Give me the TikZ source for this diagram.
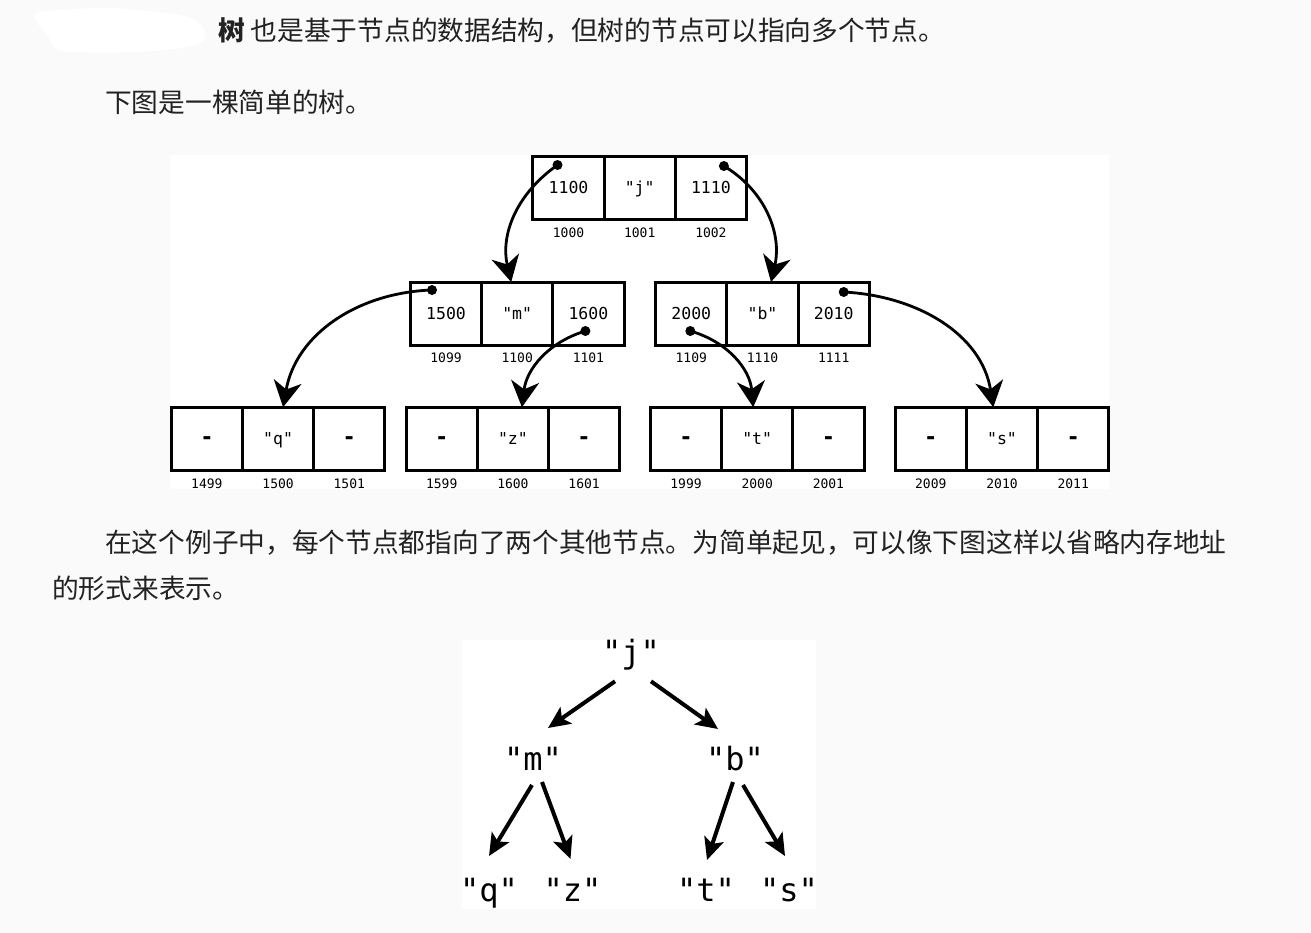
\documentclass[tikz,border=0pt]{standalone}
\usepackage{fontspec}
\newfontfamily\cjkfont{Noto Sans CJK SC}
\newfontfamily\codefont{DejaVu Sans Mono}
\usepackage{tikz}
\usetikzlibrary{arrows.meta,positioning}
\definecolor{pagebg}{HTML}{FAFAFA}
\definecolor{ink}{HTML}{222222}
\newcommand\nilcell{{\bfseries\fontsize{22}{22}\selectfont -}}
\tikzset{
	para/.style = {anchor=base west, inner sep=0pt, text=ink,
	 font=\cjkfont\fontsize{26.7}{30}\selectfont},
	cell/.style = {draw, line width=3pt, minimum width=71.2pt,
	 minimum height=63pt, inner sep=0pt, outer sep=0pt,
	 text height=12pt, text depth=0pt,
	 font=\codefont\fontsize{16.5}{18}\selectfont},
	addr/.style = {inner sep=0pt, font=\codefont\fontsize{13}{15}\selectfont},
	dot/.style = {circle, fill=black, inner sep=0pt, minimum size=10pt,
	 node contents={}},
	ptr/.style = {line width=2.8pt, -{Stealth[length=26pt,width=28pt,inset=8pt]}},
	tnode/.style = {anchor=base, inner sep=0pt,
	 font=\codefont\fontsize{32}{34}\selectfont},
	treearrow/.style = {line width=4pt, -{Stealth[length=22pt,width=20pt,inset=5pt]}},
}

\begin{document}
\begin{tikzpicture}[x=1pt, y=-1pt]
    \useasboundingbox (0,0) rectangle (1311,933);
    \fill[pagebg] (0,0) rectangle (1311,933);
    \fill[white] plot[smooth cycle] coordinates {(40,12) (110,8) (185,16)
      (205,32) (196,45) (140,52) (62,51) (48,36) (37,22)};
    \fill[white] (170,155) rectangle (1109,489);
    \fill[white] (462,640) rectangle (816,909);

    \node[para] (p1) at (218,40.5) {\textbf{树} 也是基于节点的数据结构，但树的节点可以指向多个节点。};
    \node[para] (p2) at (105,113) {下图是一棵简单的树。};
    \node[para] (p3) at (105,552) {在这个例子中，每个节点都指向了两个其他节点。为简单起见，可以像下图这样以省略内存地址};
    \node[para] (p4) at (52,598) {的形式来表示。};

    \node[cell] (j1) at (568.5,188) {1100};
    \node[cell, right=0pt of j1] (j2) {"j"};
    \node[cell, right=0pt of j2] (j3) {1110};
    \node[addr, below=8pt of j1] (j1a) {1000};
    \node[addr, below=8pt of j2] (j2a) {1001};
    \node[addr, below=8pt of j3] (j3a) {1002};

    \node[cell] (m1) at (446,313.5) {1500};
    \node[cell, right=0pt of m1] (m2) {"m"};
    \node[cell, right=0pt of m2] (m3) {1600};
    \node[addr, below=8pt of m1] (m1a) {1099};
    \node[addr, below=8pt of m2] (m2a) {1100};
    \node[addr, below=8pt of m3] (m3a) {1101};

    \node[cell] (b1) at (691.3,313.5) {2000};
    \node[cell, right=0pt of b1] (b2) {"b"};
    \node[cell, right=0pt of b2] (b3) {2010};
    \node[addr, below=8pt of b1] (b1a) {1109};
    \node[addr, below=8pt of b2] (b2a) {1110};
    \node[addr, below=8pt of b3] (b3a) {1111};

    \node[cell] (q1) at (206.9,438.7) {\nilcell};
    \node[cell, right=0pt of q1] (q2) {"q"};
    \node[cell, right=0pt of q2] (q3) {\nilcell};
    \node[addr, below=8pt of q1] (q1a) {1499};
    \node[addr, below=8pt of q2] (q2a) {1500};
    \node[addr, below=8pt of q3] (q3a) {1501};

    \node[cell] (z1) at (441.7,438.7) {\nilcell};
    \node[cell, right=0pt of z1] (z2) {"z"};
    \node[cell, right=0pt of z2] (z3) {\nilcell};
    \node[addr, below=8pt of z1] (z1a) {1599};
    \node[addr, below=8pt of z2] (z2a) {1600};
    \node[addr, below=8pt of z3] (z3a) {1601};

    \node[cell] (t1) at (686,438.7) {\nilcell};
    \node[cell, right=0pt of t1] (t2) {"t"};
    \node[cell, right=0pt of t2] (t3) {\nilcell};
    \node[addr, below=8pt of t1] (t1a) {1999};
    \node[addr, below=8pt of t2] (t2a) {2000};
    \node[addr, below=8pt of t3] (t3a) {2001};

    \node[cell] (s1) at (930.8,438.7) {\nilcell};
    \node[cell, right=0pt of s1] (s2) {"s"};
    \node[cell, right=0pt of s2] (s3) {\nilcell};
    \node[addr, below=8pt of s1] (s1a) {2009};
    \node[addr, below=8pt of s2] (s2a) {2010};
    \node[addr, below=8pt of s3] (s3a) {2011};

    \node (d1) at ([xshift=-11pt,yshift=23pt]j1.center) [dot];
    \node (d2) at ([xshift=13pt,yshift=22pt]j3.center) [dot];
    \node (d3) at ([xshift=-14pt,yshift=23.5pt]m1.center) [dot];
    \node (d4) at ([xshift=-3pt,yshift=-17.5pt]m3.center) [dot];
    \node (d5) at ([xshift=-1pt,yshift=-17.5pt]b1.center) [dot];
    \node (d6) at ([xshift=10pt,yshift=21.5pt]b3.center) [dot];
    \draw[ptr] (d1.center) to[out=215, in=103] ([xshift=-6pt]m2.north);
    \draw[ptr] (d2.center) to[out=-31, in=77] ([xshift=8.5pt]b2.north);
    \draw[ptr] (d3.center) to[out=182, in=80] ([xshift=5pt]q2.north);
    \draw[ptr] (d4.center) to[out=197, in=83] ([xshift=9pt]z2.north);
    \draw[ptr] (d5.center) to[out=-16, in=95] ([xshift=-4pt]t2.north);
    \draw[ptr] (d6.center) to[out=-3, in=99] ([xshift=-8.7pt]s2.north);

    \node[tnode] (tj) at (631,663.3) {"j"};
    \node[tnode] (tm) at (533,770) {"m"};
    \node[tnode] (tb) at (735,770) {"b"};
    \node[tnode] (tq) at (489,901) {"q"};
    \node[tnode] (tz) at (572.5,901) {"z"};
    \node[tnode] (tt) at (706,901) {"t"};
    \node[tnode] (ts) at (789,901) {"s"};
    \draw[treearrow] ([xshift=-16pt,yshift=-18pt]tj.base) -- ([xshift=15pt,yshift=42pt]tm.base);
    \draw[treearrow] ([xshift=20pt,yshift=-18pt]tj.base) -- ([xshift=-17pt,yshift=41pt]tb.base);
    \draw[treearrow] ([xshift=-1pt,yshift=-15pt]tm.base) -- ([yshift=45pt]tq.base);
    \draw[treearrow] ([xshift=9pt,yshift=-12pt]tm.base) -- ([xshift=-2pt,yshift=42pt]tz.base);
    \draw[treearrow] ([xshift=-2pt,yshift=-12pt]tb.base) -- ([xshift=1pt,yshift=41pt]tt.base);
    \draw[treearrow] ([xshift=8pt,yshift=-15pt]tb.base) -- ([xshift=-4pt,yshift=45pt]ts.base);
\end{tikzpicture}
\end{document}
